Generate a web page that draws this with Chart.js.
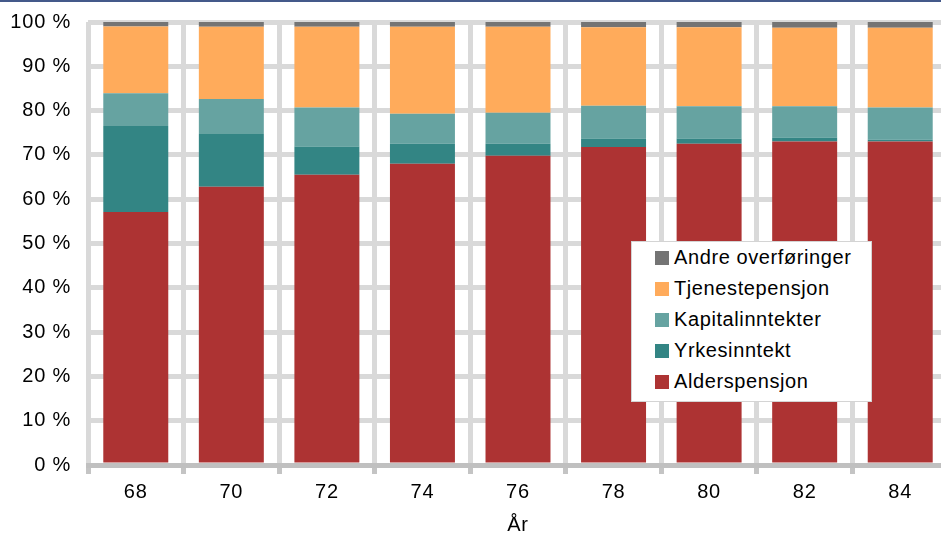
<!DOCTYPE html>
<html>
<head>
<meta charset="utf-8">
<script src="https://cdn.jsdelivr.net/npm/chart.js@4"></script>
<style>
html,body{margin:0;padding:0;overflow:hidden;background:#fff;width:941px;height:533px;}
#wrap{position:relative;width:950px;height:533px;}
#topline{position:absolute;left:0;top:0;width:941px;height:2px;background:#44598a;z-index:2;}
#legend{position:absolute;left:631px;top:241px;width:241px;height:161px;background:#fff;border:1px solid #d4d4d4;box-sizing:border-box;font-family:"Liberation Sans",Arial,sans-serif;font-size:20px;letter-spacing:0.6px;color:#000;padding-top:0;z-index:3;}
.item{position:relative;height:31px;line-height:31px;padding-left:42px;white-space:nowrap;}
.item span{position:absolute;left:23px;top:9px;width:14px;height:14px;}
</style>
</head>
<body>
<div id="wrap">
<div id="topline"></div>
<canvas id="c" width="950" height="533"></canvas>
<div id="legend"></div>
</div>
<script>
const categories = ["68","70","72","74","76","78","80","82","84"];
const alderspensjon   = [57.1, 62.8, 65.5, 68.0, 69.8, 71.8, 72.5, 73.0, 73.0];
const yrkesinntekt    = [19.4, 11.9,  6.4,  4.5,  2.7,  1.9,  1.2,  0.9,  0.4];
const kapitalinntekter= [ 7.4,  7.9,  8.8,  6.8,  7.0,  7.4,  7.3,  7.1,  7.3];
const tjenestepensjon = [15.1, 16.3, 18.2, 19.6, 19.4, 17.7, 17.8, 17.7, 18.0];
const andreOverforinger=[ 1.0,  1.1,  1.1,  1.1,  1.1,  1.2,  1.2,  1.3,  1.3];
const yTicks = [0,10,20,30,40,50,60,70,80,90,100];
const xTitle = "År";

const seriesLabels = ["Alderspensjon","Yrkesinntekt","Kapitalinntekter","Tjenestepensjon","Andre overføringer"];
const seriesColors = ["#ad3333","#338584","#66a3a1","#ffab5b","#747474"];
const seriesData = [alderspensjon, yrkesinntekt, kapitalinntekter, tjenestepensjon, andreOverforinger];

const FONT = "'Liberation Sans', Arial, sans-serif";

const datasets = seriesLabels.map((l,i)=>({
  label:l, data:seriesData[i], backgroundColor:seriesColors[i], borderWidth:0,
  barPercentage:1, categoryPercentage:0.68
}));

const spacing = {
  id:'spacing',
  beforeLayout(chart){ chart.ctx.letterSpacing='0.8px'; },
  beforeDraw(chart){ chart.ctx.letterSpacing='0.8px'; }
};

new Chart(document.getElementById('c'), {
  type:'bar',
  data:{labels:categories, datasets},
  plugins:[spacing],
  options:{
    responsive:false, animation:false, devicePixelRatio:1,
    layout:{padding:{top:22,right:2,left:0,bottom:0}},
    plugins:{legend:{display:false}, tooltip:{enabled:false}},
    scales:{
      x:{
        stacked:true,
        grid:{offset:true, color:'#d9d9d9', lineWidth:5, tickColor:'#c4c4c4', tickLength:9, tickWidth:5},
        border:{display:true, color:'#c0c0c0', width:5},
        ticks:{font:{family:FONT,size:20}, color:'#000', padding:6},
        title:{display:true, text:xTitle, font:{family:FONT,size:20}, color:'#000', padding:{top:5,bottom:-4}},
        afterFit:(s)=>{s.height=68; s.paddingLeft=0; s.paddingRight=0;}
      },
      y:{
        stacked:true, min:0, max:100,
        afterBuildTicks:(s)=>{s.ticks=yTicks.map(v=>({value:v}));},
        grid:{color:'#d9d9d9', lineWidth:5, drawTicks:false},
        border:{display:false},
        ticks:{font:{family:FONT,size:20}, color:'#000', padding:17, callback:(v)=>v+' %'},
        afterFit:(s)=>{s.width=88; s.paddingTop=0; s.paddingBottom=0;}
      }
    }
  }
});

const leg = document.getElementById('legend');
for (let i = seriesLabels.length-1; i>=0; i--) {
  const d = document.createElement('div');
  d.className='item';
  const sw = document.createElement('span');
  sw.style.background = seriesColors[i];
  d.appendChild(sw);
  d.appendChild(document.createTextNode(seriesLabels[i]));
  leg.appendChild(d);
}
</script>
</body>
</html>
